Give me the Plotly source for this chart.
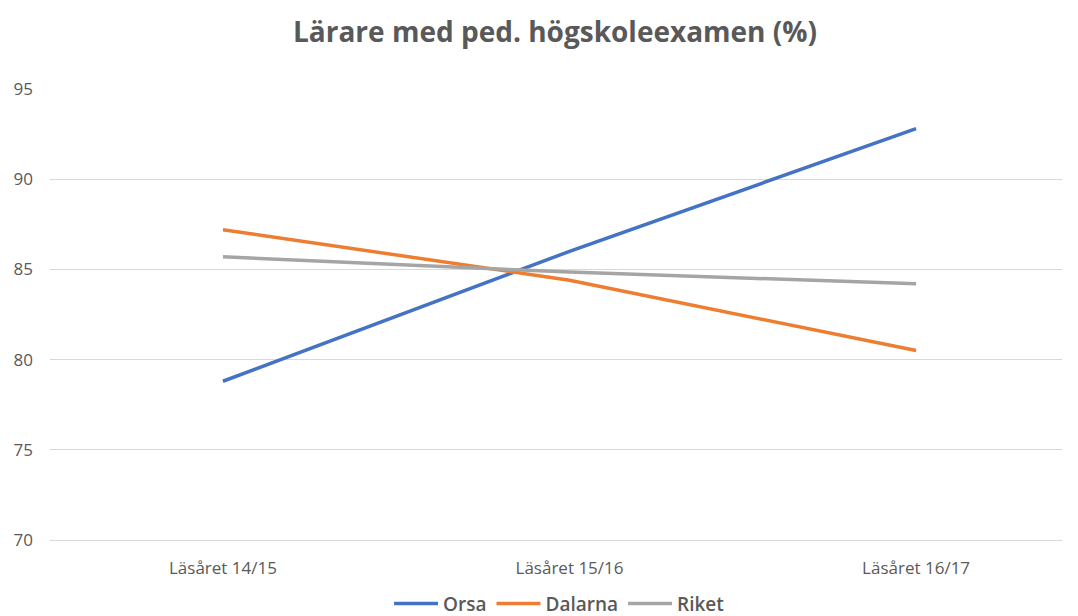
import plotly.graph_objects as go

categories = ["Läsåret 14/15", "Läsåret 15/16", "Läsåret 16/17"]
orsa = [78.8, 86.0, 92.8]
dalarna = [87.2, 84.4, 80.5]
riket = [85.7, 84.85, 84.2]
y_ticks = [70, 75, 80, 85, 90, 95]

series = [("Orsa", orsa, "#4472C4"), ("Dalarna", dalarna, "#ED7D31"), ("Riket", riket, "#A5A5A5")]

xpos = list(range(len(categories)))
fig = go.Figure()
for name, vals, col in series:
    fig.add_trace(go.Scatter(x=xpos, y=vals, mode="lines", name=name,
                             line=dict(color=col, width=3.5)))

W, H = 1070, 608
fig.update_layout(
    width=W, height=H,
    margin=dict(l=42, r=16, t=81, b=76, autoexpand=False),
    paper_bgcolor="white", plot_bgcolor="white",
    title=dict(text="<b>Lärare med ped. högskoleexamen (%)</b>", x=547 / W, xanchor="center",
               y=1 - 24 / H, yanchor="middle",
               font=dict(family="Open Sans", size=28, color="#595959")),
    font=dict(family="Open Sans", color="#595959"),
    showlegend=True,
    legend=dict(orientation="h", x=0.503, xanchor="center", y=-0.141, yanchor="middle",
                font=dict(size=19, color="#595959", weight=600), itemwidth=44, tracegroupgap=0),
)
fig.update_xaxes(range=[-0.499, 2.421], tickmode="array", tickvals=xpos, ticktext=categories,
                 showgrid=False, zeroline=False, showline=True, linecolor="#D9D9D9", linewidth=1,
                 tickfont=dict(size=17, color="#595959"), ticks="", ticklabelstandoff=13,
                 automargin=False)
fig.update_yaxes(range=[70, 95], tickmode="array", tickvals=y_ticks,
                 showgrid=True, gridcolor="#D9D9D9", gridwidth=1, zeroline=False,
                 tickfont=dict(size=17, color="#595959"), ticks="", ticklabelstandoff=16,
                 automargin=False)

fig.write_html("out.html")
